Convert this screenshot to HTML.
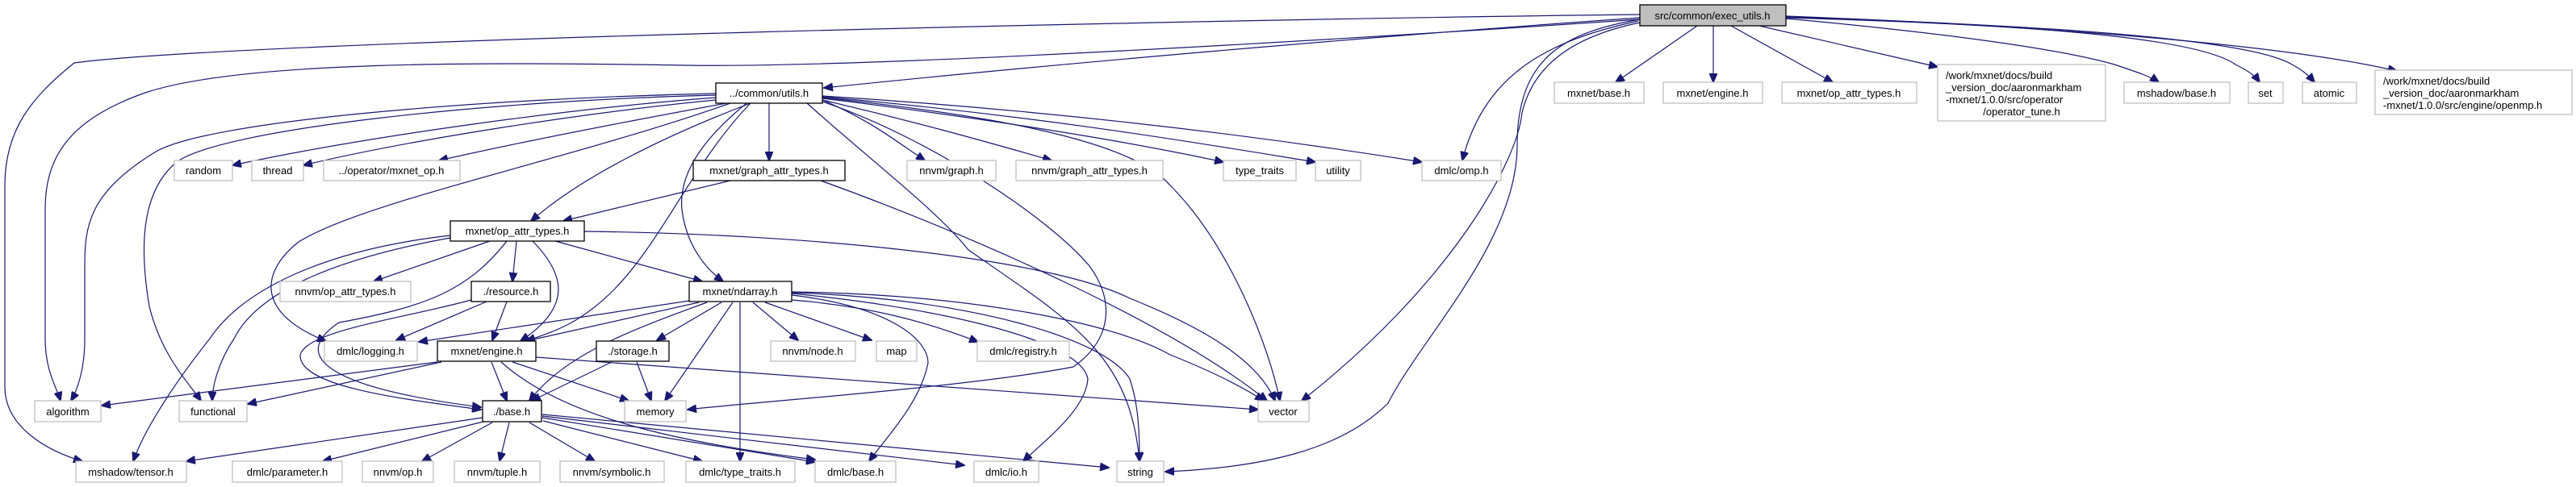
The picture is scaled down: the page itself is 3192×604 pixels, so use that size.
<!DOCTYPE html>
<html><head><meta charset="utf-8"><style>
html,body{margin:0;padding:0;background:#fff;}
svg{display:block;}
text{font-family:"Liberation Sans",sans-serif;font-size:13px;fill:#000;}
.e{fill:none;stroke:#191970;stroke-width:1.2;marker-end:url(#a);}
.n{fill:#fff;stroke:#bfbfbf;stroke-width:1.3;}
.i{fill:#fff;stroke:#000;stroke-width:1.3;}
</style></head><body>
<svg width="3192" height="604" viewBox="0 0 3192 604" xmlns="http://www.w3.org/2000/svg">
<defs><marker id="a" markerUnits="userSpaceOnUse" markerWidth="12" markerHeight="10" refX="11" refY="5" orient="auto"><path d="M0,0 L12,5 L0,10 z" fill="#191970" stroke="#191970"/></marker></defs>

<!-- edges from exec_utils.h -->
<path class="e" d="M2032,22 C1700,45 1300,80 1021,109"/>
<path class="e" d="M2032,18 C1500,24 300,50 92,78 C40,120 6,160 6,230 L6,480 C6,530 60,560 102,572"/>
<path class="e" d="M2032,24 C1800,40 1100,85 850,81 C600,77 300,75 180,115 C80,150 56,200 56,260 L56,420 C56,460 70,480 75,497"/>
<path class="e" d="M2032,28 C1950,45 1900,80 1886,140 C1880,200 1800,350 1613,497"/>
<path class="e" d="M2032,24 C1940,40 1880,70 1880,180 C1880,300 1760,420 1720,500 C1660,560 1560,580 1444,585"/>
<path class="e" d="M2030,26 C1920,50 1840,90 1812,199"/>
<path class="e" d="M2103,32 L2002,102"/>
<path class="e" d="M2123,32 L2123,102"/>
<path class="e" d="M2145,32 L2271,102"/>
<path class="e" d="M2180,32 L2401,83"/>
<path class="e" d="M2213,23 C2400,40 2550,60 2620,80 C2650,90 2665,95 2675,102"/>
<path class="e" d="M2213,22 C2500,30 2720,45 2770,80 C2790,90 2795,95 2800,102"/>
<path class="e" d="M2213,21 C2560,32 2790,50 2840,80 C2855,88 2862,95 2868,102"/>
<path class="e" d="M2213,20 C2600,35 2850,60 2970,88"/>

<!-- utils.h edges -->
<path class="e" d="M887,121 C700,135 450,170 288,205"/>
<path class="e" d="M887,124 C720,140 500,175 376,205"/>
<path class="e" d="M900,128 C780,150 650,175 544,199"/>
<path class="e" d="M953,128 L953,199"/>
<path class="e" d="M930,128 C820,170 720,220 658,274"/>
<path class="e" d="M925,128 C880,165 840,210 845,260 C850,300 870,330 896,349"/>
<path class="e" d="M930,128 C860,200 820,300 760,360 C720,400 690,410 652,423"/>
<path class="e" d="M905,128 C700,200 450,250 370,300 C320,340 320,390 404,423"/>
<path class="e" d="M887,116 C600,122 250,150 190,190 C110,240 105,280 105,330 L105,420 C105,460 95,485 88,497"/>
<path class="e" d="M887,118 C600,125 280,160 220,200 C170,240 175,320 185,380 C200,440 230,470 249,497"/>
<path class="e" d="M1019,124 C1080,150 1110,175 1146,199"/>
<path class="e" d="M1019,124 C1130,150 1220,175 1303,199"/>
<path class="e" d="M1019,122 C1250,150 1420,180 1516,201"/>
<path class="e" d="M1019,120 C1300,145 1500,180 1630,201"/>
<path class="e" d="M1019,119 C1350,140 1600,175 1762,201"/>
<path class="e" d="M1019,121 C1200,140 1400,170 1450,230 C1520,300 1570,420 1586,497"/>
<path class="e" d="M1019,126 C1150,170 1300,270 1350,330 C1380,370 1380,420 1330,455 C1200,480 950,497 852,508"/>
<path class="e" d="M1000,128 C1080,200 1160,260 1200,310 C1330,400 1400,440 1412,572"/>

<!-- graph_attr_types -->
<path class="e" d="M905,224 L698,274"/>
<path class="e" d="M1017,224 C1200,290 1450,400 1570,497"/>

<!-- op_attr_types -->
<path class="e" d="M607,299 L463,349"/>
<path class="e" d="M640,299 L635,349"/>
<path class="e" d="M688,299 L870,349"/>
<path class="e" d="M660,299 C700,340 710,380 645,423"/>
<path class="e" d="M724,287 C1000,290 1300,320 1400,370 C1500,410 1560,450 1580,497"/>
<path class="e" d="M558,295 C420,320 320,360 290,420 C270,450 263,480 263,497"/>
<path class="e" d="M558,292 C400,310 300,360 260,420 C220,470 180,530 165,572"/>
<path class="e" d="M628,299 C580,360 530,380 420,400 C360,440 400,480 596,505"/>

<!-- resource -->
<path class="e" d="M603,374 L491,422"/>
<path class="e" d="M628,374 L610,422"/>
<path class="e" d="M584,372 C500,395 380,410 372,440 C370,480 500,495 596,508"/>

<!-- ndarray -->
<path class="e" d="M854,373 L519,424"/>
<path class="e" d="M866,375 L652,423"/>
<path class="e" d="M876,375 C780,410 700,440 656,497"/>
<path class="e" d="M894,375 L814,422"/>
<path class="e" d="M908,375 L824,497"/>
<path class="e" d="M917,375 L917,572"/>
<path class="e" d="M933,375 L989,422"/>
<path class="e" d="M948,375 L1080,422"/>
<path class="e" d="M981,372 C1080,380 1150,400 1212,424"/>
<path class="e" d="M981,362 C1200,365 1380,400 1450,440 C1500,460 1540,480 1566,497"/>
<path class="e" d="M981,363 C1200,370 1370,420 1400,470 C1410,500 1412,530 1412,572"/>
<path class="e" d="M981,364 C1150,380 1340,420 1348,470 C1345,510 1290,550 1268,572"/>
<path class="e" d="M981,366 C1100,380 1150,420 1150,450 C1140,500 1100,540 1077,572"/>

<!-- storage -->
<path class="e" d="M758,449 L659,497"/>
<path class="e" d="M789,449 L807,497"/>

<!-- engine -->
<path class="e" d="M542,449 L126,503"/>
<path class="e" d="M547,449 L307,501"/>
<path class="e" d="M609,449 L628,497"/>
<path class="e" d="M635,449 L779,497"/>
<path class="e" d="M664,443 L1559,508"/>
<path class="e" d="M621,449 C700,520 850,550 1010,570"/>

<!-- base.h -->
<path class="e" d="M598,518 L231,572"/>
<path class="e" d="M603,522 L400,572"/>
<path class="e" d="M610,524 L523,572"/>
<path class="e" d="M631,524 L619,572"/>
<path class="e" d="M656,524 L737,572"/>
<path class="e" d="M673,522 L870,572"/>
<path class="e" d="M672,518 L1010,573"/>
<path class="e" d="M672,516 L1195,577"/>
<path class="e" d="M672,514 L1374,580"/>

<!-- nodes -->
<rect x="2032" y="6" width="181" height="26" fill="#bfbfbf" stroke="#000" stroke-width="1.3"/><text x="2122" y="24" text-anchor="middle">src/common/exec_utils.h</text>
<rect class="i" x="887" y="103" width="132" height="25"/><text x="953" y="120" text-anchor="middle">../common/utils.h</text>
<rect class="n" x="1926" y="102" width="111" height="26"/><text x="1981" y="120" text-anchor="middle">mxnet/base.h</text>
<rect class="n" x="2061" y="102" width="123" height="26"/><text x="2122" y="120" text-anchor="middle">mxnet/engine.h</text>
<rect class="n" x="2208" y="102" width="167" height="26"/><text x="2291" y="120" text-anchor="middle">mxnet/op_attr_types.h</text>
<rect class="n" x="2401" y="80" width="208" height="70"/>
<text x="2411" y="98">/work/mxnet/docs/build</text><text x="2411" y="113">_version_doc/aaronmarkham</text><text x="2411" y="128">-mxnet/1.0.0/src/operator</text><text x="2505" y="143" text-anchor="middle">/operator_tune.h</text>
<rect class="n" x="2632" y="102" width="131" height="26"/><text x="2697" y="120" text-anchor="middle">mshadow/base.h</text>
<rect class="n" x="2786" y="102" width="43" height="26"/><text x="2807" y="120" text-anchor="middle">set</text>
<rect class="n" x="2853" y="102" width="67" height="26"/><text x="2886" y="120" text-anchor="middle">atomic</text>
<rect class="n" x="2943" y="87" width="244" height="55"/>
<text x="2953" y="105">/work/mxnet/docs/build</text><text x="2953" y="120">_version_doc/aaronmarkham</text><text x="2953" y="135">-mxnet/1.0.0/src/engine/openmp.h</text>

<rect class="n" x="216" y="199" width="72" height="25"/><text x="252" y="216" text-anchor="middle">random</text>
<rect class="n" x="312" y="199" width="64" height="25"/><text x="344" y="216" text-anchor="middle">thread</text>
<rect class="n" x="401" y="199" width="169" height="25"/><text x="485" y="216" text-anchor="middle">../operator/mxnet_op.h</text>
<rect class="i" x="859" y="199" width="188" height="25"/><text x="953" y="216" text-anchor="middle">mxnet/graph_attr_types.h</text>
<rect class="n" x="1124" y="199" width="110" height="25"/><text x="1179" y="216" text-anchor="middle">nnvm/graph.h</text>
<rect class="n" x="1259" y="199" width="182" height="25"/><text x="1350" y="216" text-anchor="middle">nnvm/graph_attr_types.h</text>
<rect class="n" x="1516" y="199" width="90" height="25"/><text x="1561" y="216" text-anchor="middle">type_traits</text>
<rect class="n" x="1630" y="199" width="56" height="25"/><text x="1658" y="216" text-anchor="middle">utility</text>
<rect class="n" x="1762" y="199" width="98" height="25"/><text x="1811" y="216" text-anchor="middle">dmlc/omp.h</text>

<rect class="i" x="558" y="274" width="166" height="25"/><text x="641" y="291" text-anchor="middle">mxnet/op_attr_types.h</text>

<rect class="n" x="347" y="349" width="162" height="25"/><text x="428" y="366" text-anchor="middle">nnvm/op_attr_types.h</text>
<rect class="i" x="584" y="349" width="98" height="25"/><text x="633" y="366" text-anchor="middle">./resource.h</text>
<rect class="i" x="854" y="349" width="127" height="25"/><text x="917" y="366" text-anchor="middle">mxnet/ndarray.h</text>

<rect class="n" x="402" y="423" width="115" height="25"/><text x="459" y="440" text-anchor="middle">dmlc/logging.h</text>
<rect class="i" x="542" y="423" width="122" height="25"/><text x="603" y="440" text-anchor="middle">mxnet/engine.h</text>
<rect class="i" x="739" y="423" width="90" height="25"/><text x="784" y="440" text-anchor="middle">./storage.h</text>
<rect class="n" x="955" y="423" width="105" height="25"/><text x="1007" y="440" text-anchor="middle">nnvm/node.h</text>
<rect class="n" x="1086" y="423" width="50" height="25"/><text x="1111" y="440" text-anchor="middle">map</text>
<rect class="n" x="1211" y="423" width="114" height="25"/><text x="1268" y="440" text-anchor="middle">dmlc/registry.h</text>

<rect class="n" x="43" y="497" width="82" height="26"/><text x="84" y="515" text-anchor="middle">algorithm</text>
<rect class="n" x="222" y="497" width="84" height="26"/><text x="264" y="515" text-anchor="middle">functional</text>
<rect class="i" x="598" y="497" width="73" height="26"/><text x="634" y="515" text-anchor="middle">./base.h</text>
<rect class="n" x="774" y="497" width="76" height="26"/><text x="812" y="515" text-anchor="middle">memory</text>
<rect class="n" x="1559" y="497" width="63" height="26"/><text x="1590" y="515" text-anchor="middle">vector</text>

<rect class="n" x="94" y="572" width="137" height="26"/><text x="162" y="590" text-anchor="middle">mshadow/tensor.h</text>
<rect class="n" x="288" y="572" width="136" height="26"/><text x="356" y="590" text-anchor="middle">dmlc/parameter.h</text>
<rect class="n" x="449" y="572" width="88" height="26"/><text x="493" y="590" text-anchor="middle">nnvm/op.h</text>
<rect class="n" x="563" y="572" width="106" height="26"/><text x="616" y="590" text-anchor="middle">nnvm/tuple.h</text>
<rect class="n" x="694" y="572" width="129" height="26"/><text x="758" y="590" text-anchor="middle">nnvm/symbolic.h</text>
<rect class="n" x="850" y="572" width="135" height="26"/><text x="917" y="590" text-anchor="middle">dmlc/type_traits.h</text>
<rect class="n" x="1010" y="572" width="100" height="26"/><text x="1060" y="590" text-anchor="middle">dmlc/base.h</text>
<rect class="n" x="1207" y="572" width="80" height="26"/><text x="1247" y="590" text-anchor="middle">dmlc/io.h</text>
<rect class="n" x="1384" y="572" width="58" height="26"/><text x="1413" y="590" text-anchor="middle">string</text>
</svg>
</body></html>
